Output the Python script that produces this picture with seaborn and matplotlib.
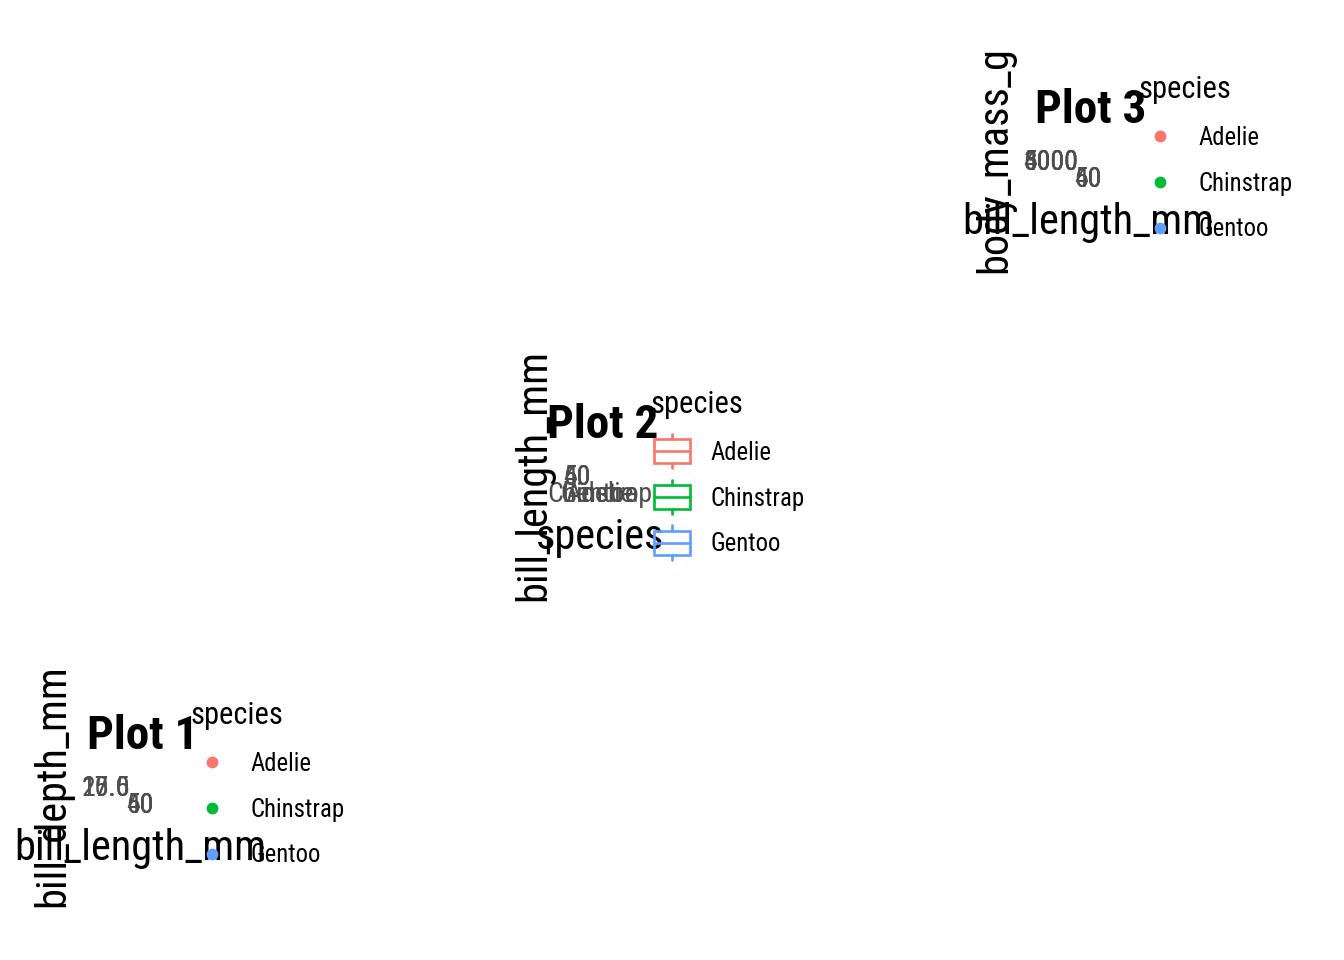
import matplotlib
matplotlib.use("Agg")
import pandas as pd
import seaborn as sns
import matplotlib.pyplot as plt
from matplotlib.lines import Line2D
from matplotlib.patches import Rectangle
from matplotlib.legend_handler import HandlerBase

# penguin sample (panels are collapsed in the reference, so only labels show)
species = ['Adelie'] * 5 + ['Chinstrap'] * 5 + ['Gentoo'] * 5
bill_length_mm = [39.1, 39.5, 40.3, 36.7, 39.3,
                  46.5, 50.0, 51.3, 45.4, 52.7,
                  46.1, 50.0, 48.7, 50.0, 47.6]
bill_depth_mm = [18.7, 17.4, 18.0, 19.3, 20.6,
                 17.9, 19.5, 19.2, 18.7, 19.8,
                 13.2, 16.3, 14.1, 15.2, 14.5]
body_mass_g = [3750, 3800, 3250, 3450, 3650,
               3500, 3900, 3650, 3525, 3725,
               4500, 5700, 4450, 5700, 5400]

species_order = ['Adelie', 'Chinstrap', 'Gentoo']
species_colors = ['#F8766D', '#00BA38', '#619CFF']

length_ticks = [40, 50, 60]
depth_ticks = [15.0, 17.5, 20.0]
mass_ticks = [3000, 4000, 5000, 6000]

W, H = 1344, 960
TICK_COLOR = '#4D4D4D'

sns.set_theme(style='white')
plt.rcParams['font.family'] = ['Roboto Condensed', 'Roboto', 'DejaVu Sans']
plt.rcParams['text.color'] = 'black'
plt.rcParams['axes.labelsize'] = 30.5
plt.rcParams['axes.labelcolor'] = 'black'

df = pd.DataFrame({
    'species': species,
    'bill_length_mm': bill_length_mm,
    'bill_depth_mm': bill_depth_mm,
    'body_mass_g': body_mass_g,
})
palette = dict(zip(species_order, species_colors))

fig = plt.figure(figsize=(W / 100, H / 100), dpi=100)
fig.patch.set_facecolor('white')


class BoxKeyHandler(HandlerBase):
    # legend key like ggplot's boxplot glyph
    def create_artists(self, legend, orig_handle, xdescent, ydescent,
                       width, height, fontsize, trans):
        c = orig_handle.get_edgecolor()
        cx = -xdescent + width / 2
        cy = -ydescent + height / 2
        bw = width * 0.8
        bh = height * 1.4
        wh = height * 1.0
        lw = 1.9
        box = Rectangle((cx - bw / 2, cy - bh / 2), bw, bh, fill=False,
                        edgecolor=c, lw=lw, transform=trans)
        med = Line2D([cx - bw / 2, cx + bw / 2], [cy, cy], color=c, lw=lw, transform=trans)
        up = Line2D([cx, cx], [cy + bh / 2, cy + wh], color=c, lw=lw, transform=trans)
        lo = Line2D([cx, cx], [cy - bh / 2, cy - wh], color=c, lw=lw, transform=trans)
        return [box, med, up, lo]


def panel(px, py):
    ax = fig.add_axes([px / W, 1 - py / H, 1e-5, 1e-5])
    ax.set_facecolor('none')
    return ax


def finish(ax, px, py, title, yticks, yticklabels, xticks=None, xticklabels=None):
    for s in ax.spines.values():
        s.set_visible(False)
    ax.grid(False)
    if xticks is not None:
        ax.set_xticks(xticks)
        ax.set_xticklabels(xticklabels)
    ax.set_yticks(yticks)
    ax.set_yticklabels(yticklabels)
    ax.tick_params(axis='both', length=0, labelsize=20, labelcolor=TICK_COLOR)
    ax.tick_params(axis='y', pad=7)
    ax.tick_params(axis='x', pad=4)
    ax.yaxis.labelpad = 6
    ax.xaxis.labelpad = 7
    fig.text((px - 53) / W, 1 - (py - 37) / H, title, fontsize=34,
             fontweight='bold', color='black', ha='left', va='baseline')


def add_key(ax, handles, px, py, handler_map=None):
    ax.legend(handles=handles, labels=species_order, title='species',
              loc='upper left', bbox_to_anchor=((px + 50) / W, 1 - (py - 85) / H),
              bbox_transform=fig.transFigure, frameon=False, borderpad=0,
              borderaxespad=0, fontsize=17.8, title_fontsize=22, alignment='left',
              handlelength=1.8, handletextpad=0.65, labelspacing=0.88,
              handler_map=handler_map)


def dot_handles():
    return [Line2D([], [], marker='o', linestyle='', color=c, markersize=8.5,
                   markeredgewidth=0) for c in species_colors]


# Plot 1
p1 = (140, 786)
ax1 = panel(*p1)
sns.scatterplot(data=df, x='bill_length_mm', y='bill_depth_mm', hue='species',
                hue_order=species_order, palette=palette, legend=False, ax=ax1)
ax1.set_xlim(32, 60)
ax1.set_ylim(13, 21.5)
finish(ax1, *p1, 'Plot 1', depth_ticks, [f'{v:.1f}' for v in depth_ticks],
       length_ticks, [str(v) for v in length_ticks])
add_key(ax1, dot_handles(), *p1)

# Plot 2
p2 = (600, 475)
ax2 = panel(*p2)
sns.boxplot(data=df, x='species', y='bill_length_mm', hue='species',
            order=species_order, hue_order=species_order, palette=palette,
            fill=False, legend=False, ax=ax2)
ax2.set_ylim(32, 60)
finish(ax2, *p2, 'Plot 2', length_ticks, [str(v) for v in length_ticks])
box_handles = [Rectangle((0, 0), 1, 1, fill=False, edgecolor=c) for c in species_colors]
add_key(ax2, box_handles, *p2, handler_map={Rectangle: BoxKeyHandler()})

# Plot 3
p3 = (1088, 160)
ax3 = panel(*p3)
sns.scatterplot(data=df, x='bill_length_mm', y='body_mass_g', hue='species',
                hue_order=species_order, palette=palette, legend=False, ax=ax3)
ax3.set_xlim(32, 60)
ax3.set_ylim(2700, 6300)
finish(ax3, *p3, 'Plot 3', mass_ticks, [str(v) for v in mass_ticks],
       length_ticks, [str(v) for v in length_ticks])
add_key(ax3, dot_handles(), *p3)

fig.savefig('out.png', dpi=100)
